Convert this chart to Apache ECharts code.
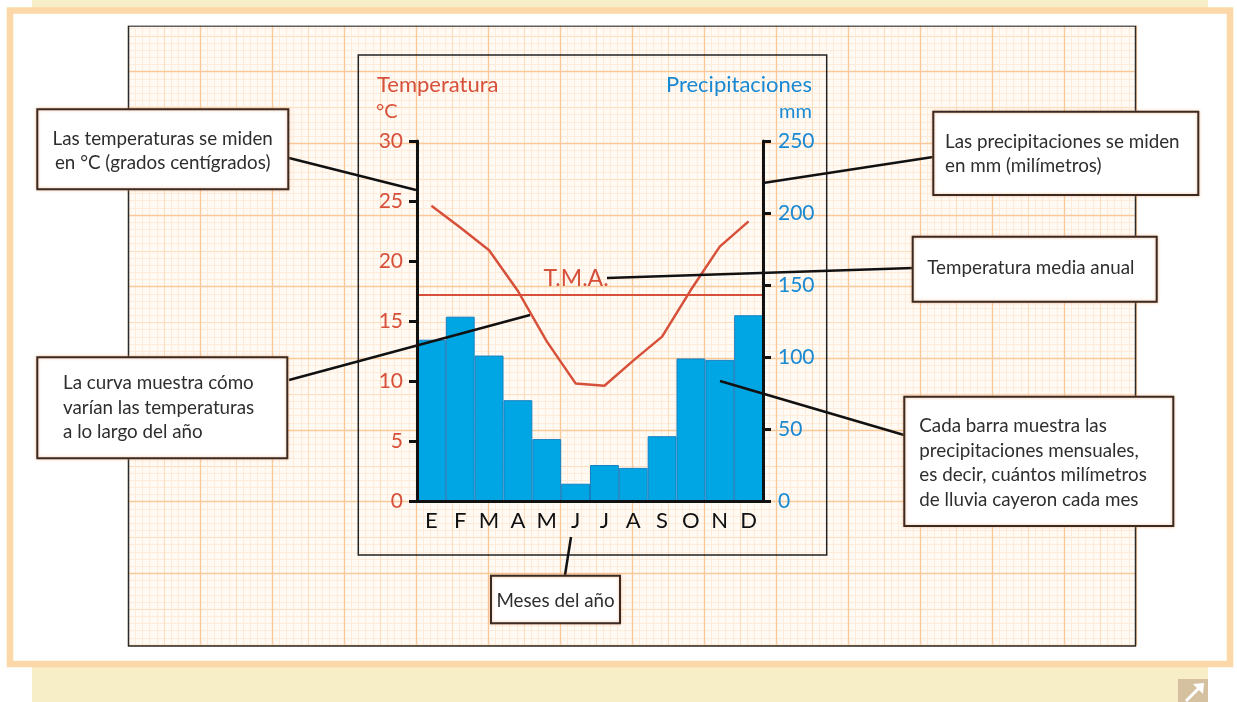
<!DOCTYPE html>
<html>
<head>
<meta charset="utf-8">
<script src="https://cdn.jsdelivr.net/npm/echarts@6/dist/echarts.min.js"></script>
<style>
html, body { margin: 0; padding: 0; background: #fff; }
#main { width: 1237px; height: 702px; }
</style>
</head>
<body>
<div id="main"></div>
<script>
// climograma: datos
var meses = ['E', 'F', 'M', 'A', 'M', 'J', 'J', 'A', 'S', 'O', 'N', 'D'];
var temperaturas = [24.6, 22.8, 20.9, 17.5, 13.3, 9.8, 9.6, 11.7, 13.7, 17.6, 21.2, 23.3];
var precipitaciones = [112, 128, 101, 70, 43, 12, 25, 23, 45, 99, 98, 129];
var tma = 17.2;
var tempMax = 30, tempPaso = 5;
var precMax = 250, precPaso = 50;

var rojo = '#d6503a';
var azul = '#1a89d2';
var fuente = 'Lato';

// papel milimetrado (solo decoracion)
function papelX(grid, paso, color, ancho, fino) {
  return {
    type: 'value', gridIndex: grid, min: 0, max: 1008, interval: paso, z: grid,
    axisLine: { show: false }, axisTick: { show: false }, axisLabel: { show: false },
    splitLine: { show: true, lineStyle: { color: color, width: ancho } },
    minorTick: { show: false, splitNumber: 5 },
    minorSplitLine: { show: fino, lineStyle: { color: '#feebd9', width: 1 } }
  };
}
function papelY(grid, paso, color, ancho, fino) {
  var a = papelX(grid, paso, color, ancho, fino);
  a.max = 648;
  return a;
}

function cuadro(x, y, w, h, texto, tx, ty, alin) {
  return [
    { type: 'rect', z: 10, shape: { x: x, y: y, width: w, height: h },
      style: { fill: '#fff', stroke: '#3a2a22', lineWidth: 2, shadowBlur: 3, shadowColor: 'rgba(240,150,90,0.6)' } },
    { type: 'text', z: 11, x: tx, y: ty,
      style: { text: texto, fill: '#2e2e2e', fontSize: 18.8, fontFamily: fuente, lineHeight: 24.5,
        textAlign: alin, align: alin, textVerticalAlign: 'middle', verticalAlign: 'middle' } }
  ];
}
function linea(x1, y1, x2, y2) {
  return { type: 'line', z: 9, shape: { x1: x1, y1: y1, x2: x2, y2: y2 }, style: { stroke: '#111', lineWidth: 2.5 } };
}
function texto(t, x, y, size, color, alin) {
  return { type: 'text', z: 11, x: x, y: y,
    style: { text: t, fill: color, fontSize: size, fontFamily: fuente,
      textAlign: alin, align: alin, textVerticalAlign: 'middle', verticalAlign: 'middle' } };
}

var graficos = [
  // fondo
  { type: 'rect', z: 0, shape: { x: 32, y: 664, width: 1176, height: 38 }, style: { fill: '#f7edc6' } },
  { type: 'rect', z: 0, shape: { x: 128.5, y: 26, width: 1007, height: 620 }, style: { fill: '#fffaf4' } },
  // mascara por encima del papel
  { type: 'rect', z: 10, shape: { x: 120, y: -5, width: 1030, height: 30.5 }, style: { fill: '#fff' } },
  { type: 'rect', z: 10, shape: { x: 32, y: 0, width: 1176, height: 8 }, style: { fill: '#f7edc6' } },
  { type: 'rect', z: 10, shape: { x: 10, y: 10.5, width: 1220, height: 653.5 }, style: { fill: 'none', stroke: '#fcd7a8', lineWidth: 6.5 } },
  // bordes
  { type: 'rect', z: 6, shape: { x: 128.5, y: 26, width: 1007, height: 620 }, style: { fill: 'none', stroke: '#2a2a2a', lineWidth: 1.5 } },
  { type: 'rect', z: 6, shape: { x: 358.3, y: 55, width: 468.4, height: 500 }, style: { fill: 'none', stroke: '#222', lineWidth: 1.5 } },
  // icono
  { type: 'rect', z: 10, shape: { x: 1178, y: 679, width: 30, height: 23 }, style: { fill: '#d5c09f' } },
  { type: 'line', z: 11, shape: { x1: 1186, y1: 701, x2: 1200, y2: 687 }, style: { stroke: '#fff', lineWidth: 3 } },
  { type: 'polygon', z: 11, shape: { points: [[1204, 683], [1193, 684], [1203, 694]] }, style: { fill: '#fff' } },
  // titulos de los ejes
  texto('Temperatura', 377, 85, 22, rojo, 'left'),
  texto('°C', 376, 112, 20, rojo, 'left'),
  texto('Precipitaciones', 812, 85, 22, azul, 'right'),
  texto('mm', 812, 112, 20, azul, 'right'),
  // conectores
  linea(289, 158, 416, 190),
  linea(289, 380, 530, 315),
  linea(571, 537, 565, 575),
  linea(933, 157, 763, 183),
  linea(913, 268, 607, 278),
  linea(904, 435, 720, 381)
];
graficos = graficos
  .concat(cuadro(37.3, 109.3, 251, 80, 'Las temperaturas se miden\nen °C (grados centígrados)', 162.7, 150.8, 'center'))
  .concat(cuadro(37.3, 357.3, 250, 101, 'La curva muestra cómo\nvarían las temperaturas\na lo largo del año', 63, 407.8, 'left'))
  .concat(cuadro(491, 575.7, 129, 47.6, 'Meses del año', 555.5, 600.5, 'center'))
  .concat(cuadro(933.3, 111.7, 265, 83.3, 'Las precipitaciones se miden\nen mm (milímetros)', 945, 153.7, 'left'))
  .concat(cuadro(912.7, 236.7, 244, 65, 'Temperatura media anual', 927.3, 268.3, 'left'))
  .concat(cuadro(904.3, 396.7, 269, 129.3, 'Cada barra muestra las\nprecipitaciones mensuales,\nes decir, cuántos milímetros\nde lluvia cayeron cada mes', 919.3, 463, 'left'));

var myChart = echarts.init(document.getElementById('main'));
myChart.setOption({
  animation: false,
  backgroundColor: '#fff',
  grid: [
    { left: 417, top: 141, width: 346, height: 360 },
    { left: 128, top: -3, width: 1008, height: 648 },
    { left: 128, top: -3, width: 1008, height: 648 }
  ],
  xAxis: [
    {
      type: 'category', gridIndex: 0, data: meses, boundaryGap: true, z: 5,
      axisLine: { show: true, lineStyle: { color: '#111', width: 3 } },
      axisTick: { show: false },
      axisLabel: { color: '#111', fontSize: 22, fontFamily: fuente, margin: 9, interval: 0 },
      splitLine: { show: false }
    },
    papelX(1, 36, '#fddcbb', 1, true),
    papelX(2, 72, '#f9c999', 1.3, false)
  ],
  yAxis: [
    {
      type: 'value', gridIndex: 0, position: 'left', min: 0, max: tempMax, interval: tempPaso, z: 5,
      axisLine: { show: true, lineStyle: { color: '#111', width: 3 } },
      axisTick: { show: true, length: 8, lineStyle: { color: '#111', width: 3 } },
      axisLabel: { color: rojo, fontSize: 21, fontFamily: fuente, margin: 14 },
      splitLine: { show: false }
    },
    {
      type: 'value', gridIndex: 0, position: 'right', min: 0, max: precMax, interval: precPaso, z: 5,
      axisLine: { show: true, lineStyle: { color: '#111', width: 3 } },
      axisTick: { show: true, length: 8, lineStyle: { color: '#111', width: 3 } },
      axisLabel: { color: azul, fontSize: 21, fontFamily: fuente, margin: 15 },
      splitLine: { show: false }
    },
    papelY(1, 36, '#fddcbb', 1, true),
    papelY(2, 72, '#f9c999', 1.3, false)
  ],
  graphic: graficos,
  series: [
    {
      name: 'Precipitaciones', type: 'bar', xAxisIndex: 0, yAxisIndex: 1, z: 3,
      data: precipitaciones, barCategoryGap: '0%',
      itemStyle: { color: '#00a6e4', borderColor: '#1580c2', borderWidth: 1 }
    },
    {
      name: 'Temperatura', type: 'line', xAxisIndex: 0, yAxisIndex: 0, z: 4,
      data: temperaturas, symbol: 'none',
      lineStyle: { color: rojo, width: 2.5 },
      markLine: {
        silent: true, symbol: ['none', 'none'],
        data: [{ yAxis: tma }],
        lineStyle: { color: rojo, width: 2, type: 'solid' },
        label: { show: true, formatter: 'T.M.A.', position: 'insideMiddleTop', color: rojo,
          fontSize: 23, fontFamily: fuente, padding: [0, 28, 0, 0], distance: 5 }
      }
    }
  ]
});
</script>
</body>
</html>
